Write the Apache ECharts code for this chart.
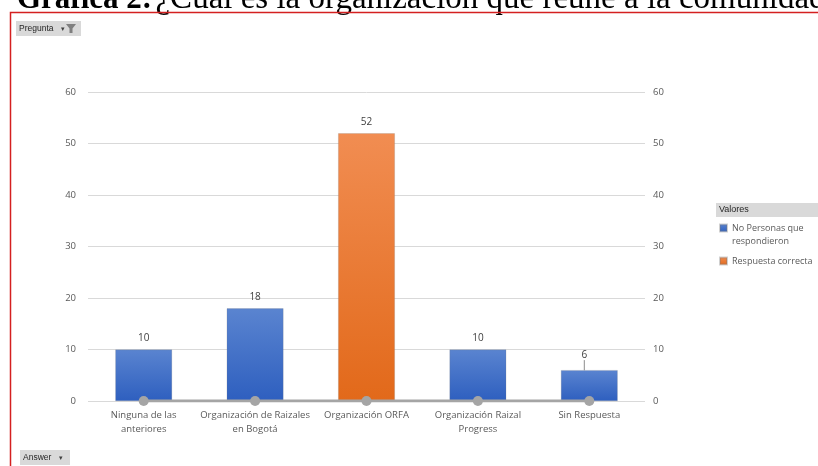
<!DOCTYPE html>
<html>
<head>
<meta charset="utf-8">
<script src="https://cdn.jsdelivr.net/npm/echarts@6/dist/echarts.min.js"></script>
<style>
  html, body { margin: 0; padding: 0; background: #fff; }
  #chart { width: 818px; height: 466px; }
</style>
</head>
<body>
<div id="chart"></div>
<script>
// 数据
const categories = ['Ninguna de las\nanteriores', 'Organización de Raizales\nen Bogotá', 'Organización ORFA', 'Organización Raizal\nProgress', 'Sin Respuesta'];
const personas = [10, 18, null, 10, 6];
const correcta = [null, null, 52, null, null];
const lineaBase = [0, 0, 0, 0, 0];
const yTicks = { min: 0, max: 60, interval: 10 };

const chart = echarts.init(document.getElementById('chart'));

const labelFont = { fontFamily: 'Open Sans', fontSize: 9.5, color: '#595959' };
const lastIdx = categories.length - 1;

// 最后一个柱子的标签带引导线
const personasData = personas.map((v, i) => i === lastIdx
  ? { value: v, labelLine: { show: true, lineStyle: { color: '#8c8c8c', width: 1 } } }
  : v);

const option = {
  animation: false,
  textStyle: { fontFamily: 'Open Sans' },
  grid: { left: 88, right: 173, top: 92, bottom: 65 },
  legend: {
    data: ['No Personas que respondieron', 'Respuesta correcta'],
    orient: 'vertical',
    left: 719,
    top: 208.5,
    padding: 0,
    icon: 'rect',
    itemWidth: 7,
    itemHeight: 7,
    itemGap: 7,
    align: 'left',
    // 首行留空，让图标对齐第一行文字
    formatter: name => name === 'No Personas que respondieron' ? '\nNo Personas que\nrespondieron' : name,
    textStyle: { fontFamily: 'Open Sans', fontSize: 9, color: '#595959', lineHeight: 13 }
  },
  xAxis: {
    type: 'category',
    data: categories,
    axisLine: { show: false },
    axisTick: { show: false },
    axisLabel: Object.assign({ margin: 7, lineHeight: 14, interval: 0 }, labelFont)
  },
  yAxis: [
    {
      type: 'value', min: yTicks.min, max: yTicks.max, interval: yTicks.interval,
      axisLabel: Object.assign({ margin: 12 }, labelFont),
      splitLine: { lineStyle: { color: '#d9d9d9', width: 1 } }
    },
    {
      type: 'value', min: yTicks.min, max: yTicks.max, interval: yTicks.interval, position: 'right',
      axisLabel: Object.assign({ margin: 8 }, labelFont),
      splitLine: { show: false }
    }
  ],
  series: [
    {
      name: 'No Personas que respondieron',
      type: 'bar',
      stack: 'total',
      barWidth: '51%',
      data: personasData,
      itemStyle: {
        color: new echarts.graphic.LinearGradient(0, 0, 0, 1, [
          { offset: 0, color: '#5a84d0' },
          { offset: 1, color: '#2e5fbf' }
        ]),
        borderColor: 'rgba(120,120,120,0.35)',
        borderWidth: 0.6
      },
      label: { show: true, position: 'top', distance: 6, fontFamily: 'Open Sans', fontSize: 10, color: '#404040' },
      labelLayout: p => p.dataIndex === lastIdx ? { dx: -5, dy: -4 } : {}
    },
    {
      name: 'Respuesta correcta',
      type: 'bar',
      stack: 'total',
      barWidth: '51%',
      data: correcta,
      itemStyle: {
        color: new echarts.graphic.LinearGradient(0, 0, 0, 1, [
          { offset: 0, color: '#f18d52' },
          { offset: 1, color: '#e2691a' }
        ]),
        borderColor: 'rgba(120,120,120,0.35)',
        borderWidth: 0.6
      },
      label: { show: true, position: 'top', distance: 6, fontFamily: 'Open Sans', fontSize: 10, color: '#404040' }
    },
    {
      name: 'Base',
      type: 'line',
      data: lineaBase,
      symbol: 'circle',
      symbolSize: 10,
      z: 5,
      lineStyle: { color: '#a5a5a5', width: 3 },
      itemStyle: { color: '#a5a5a5' }
    }
  ],
  graphic: [
    // 标题
    {
      type: 'text', left: 17, top: -17, silent: true,
      style: {
        text: '{b|Gráfica 2:} {n|¿Cuál es la organización que reúne a la comunidad raizal?}',
        rich: {
          b: { fontFamily: 'Liberation Serif', fontWeight: 'bold', fontSize: 31, lineHeight: 33, fill: '#000' },
          n: { fontFamily: 'Liberation Serif', fontSize: 33, lineHeight: 33, fill: '#000' }
        }
      }
    },
    // 红色边框
    {
      type: 'rect', silent: true,
      shape: { x: 10.5, y: 12.5, width: 830, height: 470 },
      style: { fill: 'none', stroke: '#d42020', lineWidth: 1.5 }
    },
    // Pregunta 按钮
    {
      type: 'group', left: 16, top: 21,
      children: [
        { type: 'rect', shape: { x: 0, y: 0, width: 65, height: 15 }, style: { fill: '#d9d9d9' } },
        { type: 'text', x: 3, y: 7.5, style: { text: 'Pregunta', fontFamily: 'Liberation Sans', fontSize: 8.5, fill: '#262626', verticalAlign: 'middle' } },
        { type: 'text', x: 45, y: 8, style: { text: '▾', fontSize: 7, fill: '#404040', verticalAlign: 'middle' } },
        { type: 'polygon', shape: { points: [[50, 3], [60, 3], [56.5, 7.5], [56.5, 12], [53.5, 12], [53.5, 7.5]] }, style: { fill: '#7f7f7f' } }
      ]
    },
    // Answer 按钮
    {
      type: 'group', left: 20, top: 450,
      children: [
        { type: 'rect', shape: { x: 0, y: 0, width: 50, height: 15 }, style: { fill: '#d9d9d9' } },
        { type: 'text', x: 3, y: 7.5, style: { text: 'Answer', fontFamily: 'Liberation Sans', fontSize: 8.5, fill: '#262626', verticalAlign: 'middle' } },
        { type: 'text', x: 39, y: 8, style: { text: '▾', fontSize: 7, fill: '#404040', verticalAlign: 'middle' } }
      ]
    },
    // 图例标题
    {
      type: 'group', left: 716, top: 203,
      children: [
        { type: 'rect', shape: { x: 0, y: 0, width: 104, height: 14 }, style: { fill: '#d9d9d9' } },
        { type: 'text', x: 3, y: 7, style: { text: 'Valores', fontFamily: 'Liberation Sans', fontSize: 9, fill: '#262626', verticalAlign: 'middle' } }
      ]
    }
  ]
};

chart.setOption(option);
</script>
</body>
</html>
